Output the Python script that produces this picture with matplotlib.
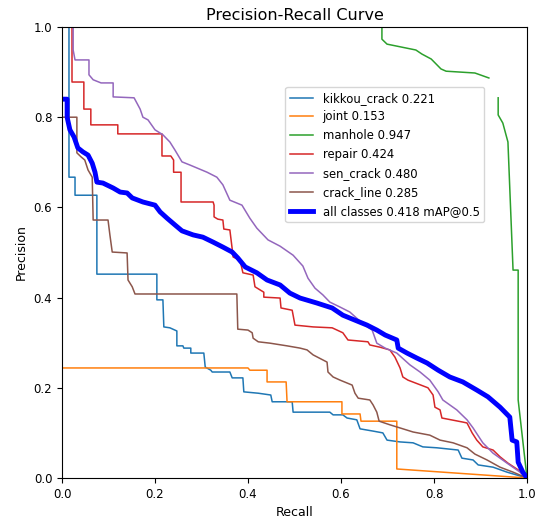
import numpy as np
import matplotlib as mpl
mpl.use('Agg')
import matplotlib.pyplot as plt

# ---- values (recall, precision) ----
names = ['kikkou_crack', 'joint', 'manhole', 'repair', 'sen_crack', 'crack_line']
ap = [0.221, 0.153, 0.947, 0.424, 0.480, 0.285]
map50 = 0.418

kikkou_r = [0.015, 0.015, 0.028, 0.028, 0.075, 0.075, 0.204, 0.204, 0.217, 0.219, 0.232, 0.247, 0.247,
            0.260, 0.262, 0.277, 0.277, 0.305, 0.308, 0.320, 0.323, 0.361, 0.366, 0.389, 0.391, 0.422,
            0.449, 0.452, 0.495, 0.497, 0.576, 0.583, 0.604, 0.613, 0.634, 0.641, 0.669, 0.690, 0.699,
            0.727, 0.755, 0.776, 0.806, 0.852, 0.860, 0.884, 0.895, 0.927, 0.957, 1.0]
kikkou_p = [1.0, 0.667, 0.667, 0.627, 0.627, 0.452, 0.452, 0.395, 0.395, 0.335, 0.333, 0.326, 0.293,
            0.293, 0.288, 0.288, 0.277, 0.277, 0.246, 0.239, 0.235, 0.235, 0.222, 0.222, 0.191, 0.188,
            0.184, 0.169, 0.169, 0.146, 0.146, 0.140, 0.140, 0.133, 0.129, 0.109, 0.104, 0.100, 0.084,
            0.080, 0.078, 0.069, 0.067, 0.062, 0.044, 0.040, 0.029, 0.024, 0.013, 0.0]

joint_r = [0.0, 0.400, 0.404, 0.441, 0.441, 0.482, 0.484, 0.602, 0.602, 0.641, 0.643, 0.720, 0.720, 1.0]
joint_p = [0.244, 0.244, 0.239, 0.239, 0.213, 0.213, 0.169, 0.169, 0.142, 0.142, 0.126, 0.126, 0.020, 0.0]

manhole_r = [0.688, 0.688, 0.699, 0.761, 0.774, 0.794, 0.815, 0.826, 0.888, 0.918, np.nan,
             0.938, 0.938, 0.948, 0.959, 0.970, 0.981, 0.981, 1.0]
manhole_p = [1.0, 0.973, 0.962, 0.949, 0.940, 0.929, 0.907, 0.902, 0.898, 0.887, np.nan,
             0.843, 0.805, 0.787, 0.745, 0.461, 0.461, 0.173, 0.0]

repair_r = [0.0215, 0.0215, 0.047, 0.047, 0.062, 0.062, 0.120, 0.120, 0.215, 0.215, 0.234, 0.240, 0.240,
            0.256, 0.256, 0.325, 0.327, 0.327, 0.335, 0.346, 0.348, 0.361, 0.366, 0.368, 0.383, 0.389,
            0.411, 0.415, 0.426, 0.434, 0.434, 0.469, 0.471, 0.495, 0.501, 0.540, 0.581, 0.604, 0.615,
            0.658, 0.662, 0.684, 0.705, 0.716, 0.727, 0.733, 0.744, 0.787, 0.798, 0.802, 0.813, 0.817,
            0.862, 0.871, 0.882, 0.892, 0.905, 0.927, 0.942, 0.959, 0.981, 1.0]
repair_p = [1.0, 0.878, 0.878, 0.818, 0.818, 0.783, 0.783, 0.763, 0.763, 0.714, 0.714, 0.705, 0.678,
            0.678, 0.612, 0.612, 0.605, 0.579, 0.574, 0.572, 0.552, 0.550, 0.508, 0.490, 0.483, 0.455,
            0.450, 0.424, 0.417, 0.412, 0.401, 0.399, 0.377, 0.372, 0.339, 0.335, 0.333, 0.322, 0.306,
            0.302, 0.295, 0.290, 0.284, 0.268, 0.244, 0.224, 0.217, 0.200, 0.184, 0.157, 0.151, 0.133,
            0.124, 0.122, 0.100, 0.084, 0.069, 0.062, 0.047, 0.033, 0.018, 0.0]

sen_r = [0.024, 0.024, 0.028, 0.058, 0.058, 0.067, 0.084, 0.110, 0.110, 0.155, 0.168, 0.174, 0.185, 0.200,
         0.217, 0.232, 0.243, 0.258, 0.275, 0.312, 0.333, 0.346, 0.361, 0.387, 0.404, 0.419, 0.443, 0.469,
         0.497, 0.518, 0.529, 0.544, 0.561, 0.576, 0.598, 0.619, 0.645, 0.667, 0.677, 0.695, 0.720, 0.748,
         0.770, 0.791, 0.809, 0.819, 0.849, 0.871, 0.884, 0.905, 0.927, 0.957, 0.985, 1.0]
sen_p = [1.0, 0.949, 0.927, 0.927, 0.894, 0.883, 0.876, 0.876, 0.845, 0.843, 0.818, 0.800, 0.794, 0.772,
         0.761, 0.745, 0.727, 0.701, 0.694, 0.678, 0.667, 0.650, 0.616, 0.605, 0.576, 0.554, 0.528, 0.514,
         0.494, 0.470, 0.443, 0.421, 0.406, 0.390, 0.379, 0.368, 0.344, 0.328, 0.299, 0.288, 0.277, 0.251,
         0.235, 0.217, 0.191, 0.173, 0.151, 0.129, 0.111, 0.078, 0.055, 0.033, 0.013, 0.0]

crack_r = [0.0, 0.032, 0.032, 0.041, 0.049, 0.056, 0.065, 0.067, 0.099, 0.103, 0.108, 0.140, 0.142, 0.151,
           0.157, 0.376, 0.378, 0.400, 0.409, 0.411, 0.422, 0.447, 0.484, 0.512, 0.527, 0.540, 0.570, 0.572,
           0.583, 0.598, 0.624, 0.630, 0.637, 0.662, 0.669, 0.677, 0.682, 0.705, 0.727, 0.755, 0.791, 0.813,
           0.841, 0.871, 0.888, 0.914, 0.942, 0.970, 1.0]
crack_p = [0.800, 0.800, 0.721, 0.712, 0.705, 0.683, 0.667, 0.572, 0.572, 0.539, 0.501, 0.499, 0.439, 0.424,
           0.408, 0.408, 0.330, 0.328, 0.322, 0.310, 0.302, 0.299, 0.293, 0.288, 0.284, 0.273, 0.257, 0.235,
           0.224, 0.217, 0.206, 0.188, 0.177, 0.173, 0.162, 0.146, 0.126, 0.118, 0.111, 0.102, 0.095, 0.084,
           0.078, 0.067, 0.053, 0.040, 0.024, 0.013, 0.0]

all_r = [0.0, 0.011, 0.011, 0.017, 0.026, 0.034, 0.045, 0.056, 0.065, 0.071, 0.075, 0.088, 0.110, 0.125,
         0.140, 0.151, 0.174, 0.200, 0.211, 0.226, 0.243, 0.258, 0.282, 0.303, 0.325, 0.346, 0.366, 0.378,
         0.394, 0.419, 0.441, 0.469, 0.490, 0.512, 0.548, 0.581, 0.604, 0.630, 0.656, 0.677, 0.695, 0.720,
         0.723, 0.742, 0.763, 0.785, 0.809, 0.834, 0.862, 0.892, 0.916, 0.942, 0.963, 0.968, 0.978, 0.981,
         0.991, 1.0]
all_p = [0.840, 0.840, 0.800, 0.772, 0.756, 0.732, 0.723, 0.716, 0.698, 0.678, 0.656, 0.654, 0.643, 0.634,
         0.632, 0.621, 0.612, 0.605, 0.590, 0.576, 0.561, 0.548, 0.539, 0.534, 0.523, 0.512, 0.501, 0.488,
         0.468, 0.455, 0.439, 0.428, 0.410, 0.399, 0.388, 0.377, 0.361, 0.350, 0.339, 0.328, 0.317, 0.306,
         0.288, 0.277, 0.266, 0.255, 0.239, 0.224, 0.213, 0.195, 0.180, 0.157, 0.135, 0.084, 0.080, 0.035,
         0.013, 0.0]

curves = [(kikkou_r, kikkou_p), (joint_r, joint_p), (manhole_r, manhole_p),
          (repair_r, repair_p), (sen_r, sen_p), (crack_r, crack_p)]

fig = plt.figure(figsize=(5.47, 5.19), dpi=100)
ax = fig.add_axes([62 / 547, 41 / 519, 465 / 547, 451 / 519])

for i, (r, p) in enumerate(curves):
    ax.plot(r, p, linewidth=1.1, color='C%d' % i, label='%s %.3f' % (names[i], ap[i]))
ax.plot(all_r, all_p, linewidth=3.5, color='blue', label='all classes %.3f mAP@0.5' % map50)

ax.set_xlim(0, 1)
ax.set_ylim(0, 1)
ax.set_xlabel('Recall', fontsize=9)
ax.set_ylabel('Precision', fontsize=9)
ax.tick_params(labelsize=8.5)
ax.set_title('Precision-Recall Curve', fontsize=11.5, pad=5)
ax.legend(loc='upper left', bbox_to_anchor=(0.48, 0.867), borderaxespad=0, fontsize=8.4)

plt.savefig('out.png', dpi=100)
plt.close()
